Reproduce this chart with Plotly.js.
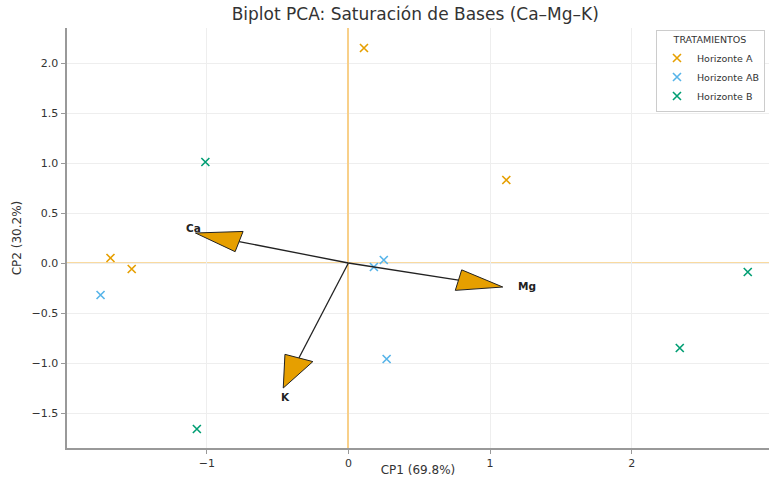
<!DOCTYPE html>
<html>
<head>
<meta charset="utf-8">
<script src="https://cdn.plot.ly/plotly-3.0.1.min.js"></script>
<style>html,body{margin:0;padding:0;background:#fff;}#chart{width:769px;height:477px;}</style>
</head>
<body>
<div id="chart"></div>
<script>
// Scores per treatment
const groups = ["Horizonte A", "Horizonte AB", "Horizonte B"];
const colors = ["#E69F00", "#56B4E9", "#009E73"];
const hA_x = [0.11, 1.115, -1.68, -1.53];
const hA_y = [2.15, 0.83, 0.05, -0.06];
const hAB_x = [-1.75, 0.18, 0.25, 0.27];
const hAB_y = [-0.32, -0.04, 0.03, -0.96];
const hB_x = [-1.01, 2.82, 2.34, -1.07];
const hB_y = [1.01, -0.09, -0.85, -1.66];

// Loadings (arrow tips)
const varNames = ["Ca", "Mg", "K"];
const loadX = [-1.08, 1.09, -0.46];
const loadY = [0.30, -0.24, -1.25];

const xs = [hA_x, hAB_x, hB_x];
const ys = [hA_y, hAB_y, hB_y];

const traces = groups.map((g, i) => ({
  type: "scatter", mode: "markers", name: g,
  x: xs[i], y: ys[i],
  marker: {symbol: "x-thin", size: 8, color: colors[i], line: {color: colors[i], width: 1.6}}
}));

const shapes = [
  {type: "line", xref: "paper", yref: "y", x0: 0, x1: 1, y0: 0, y1: 0,
   line: {color: "#F2B440", width: 1}, layer: "below"}
];
const annotations = [];
const headLen = 0.32, headW = 0.21;
const labelShift = [[-2, 5], [24, 1], [2, -9]];
for (let i = 0; i < varNames.length; i++) {
  const tx = loadX[i], ty = loadY[i];
  const L = Math.hypot(tx, ty);
  const ux = tx / L, uy = ty / L;
  const bx = tx - ux * headLen, by = ty - uy * headLen;
  const px = -uy * headW / 2, py = ux * headW / 2;
  shapes.push({type: "line", xref: "x", yref: "y", x0: 0, y0: 0, x1: bx, y1: by,
    line: {color: "#222", width: 1.3}, layer: "above"});
  shapes.push({type: "path", xref: "x", yref: "y",
    path: `M ${tx} ${ty} L ${bx + px} ${by + py} L ${bx - px} ${by - py} Z`,
    fillcolor: "#E69F00", line: {color: "#222", width: 1}, layer: "above"});
  annotations.push({x: tx, y: ty, xref: "x", yref: "y", text: "<b>" + varNames[i] + "</b>",
    showarrow: false, xshift: labelShift[i][0], yshift: labelShift[i][1],
    font: {family: "DejaVu Sans", size: 10.5, color: "#222"}});
}

const layout = {
  width: 769, height: 477,
  margin: {l: 67, r: 0, t: 28, b: 29},
  paper_bgcolor: "#fff", plot_bgcolor: "#fff",
  font: {family: "DejaVu Sans", color: "#333", size: 11},
  title: {text: "Biplot PCA: Saturación de Bases (Ca–Mg–K)", x: 0.54, xanchor: "center", y: 0.97, yanchor: "middle",
    font: {family: "DejaVu Sans", size: 17, color: "#333"}},
  xaxis: {range: [-1.987, 2.97], tickvals: [-1, 0, 1, 2], ticktext: ["−1", "0", "1", "2"],
    showgrid: true, gridcolor: "#eeeeee", gridwidth: 1,
    zeroline: true, zerolinecolor: "#F8D08A", zerolinewidth: 2,
    showline: true, linecolor: "#999", linewidth: 2, ticks: "outside", ticklen: 4, tickcolor: "#999",
    tickfont: {size: 11, color: "#333"},
    title: {text: "CP1 (69.8%)", font: {size: 12, color: "#333"}, standoff: 4}},
  yaxis: {range: [-1.85, 2.35], tickvals: [-1.5, -1, -0.5, 0, 0.5, 1, 1.5, 2],
    ticktext: ["−1.5", "−1.0", "−0.5", "0.0", "0.5", "1.0", "1.5", "2.0"],
    showgrid: true, gridcolor: "#eeeeee", gridwidth: 1, zeroline: false,
    showline: true, linecolor: "#999", linewidth: 2.5, ticks: "outside", ticklen: 4, tickcolor: "#999",
    tickfont: {size: 11, color: "#333"},
    title: {text: "CP2 (30.2%)", font: {size: 12, color: "#333"}, standoff: 8}},
  legend: {x: 0.839, y: 0.995, xanchor: "left", yanchor: "top",
    bgcolor: "rgba(255,255,255,0.9)", bordercolor: "#cccccc", borderwidth: 1,
    font: {size: 9.5, color: "#333"},
    title: {text: "TRATAMIENTOS", side: "top center", font: {size: 9.5, color: "#333"}}},
  shapes: shapes,
  annotations: annotations
};

Plotly.newPlot("chart", traces, layout, {displayModeBar: false, staticPlot: true});
</script>
</body>
</html>
